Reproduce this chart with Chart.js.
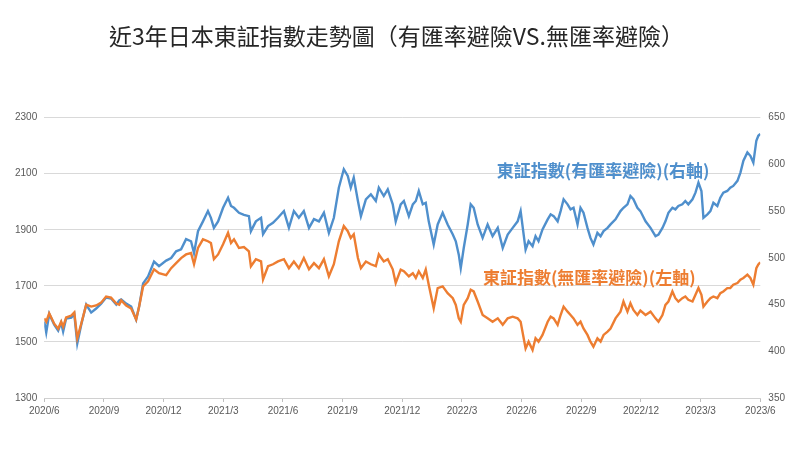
<!DOCTYPE html>
<html><head><meta charset="utf-8">
<script src="https://cdn.jsdelivr.net/npm/chart.js@4.4.0/dist/chart.umd.min.js"></script>
<style>html,body{margin:0;padding:0;background:#fff}canvas{display:block}</style>
</head><body>
<canvas id="c" width="800" height="450"></canvas>
<script>
// observation time, months since 2020/6
const months = [0.00,0.10,0.25,0.50,0.70,0.85,0.95,1.10,1.36,1.51,1.66,1.86,2.11,2.36,2.61,2.86,3.11,3.36,3.62,3.77,3.87,4.12,4.37,4.62,4.77,4.97,5.22,5.52,5.77,6.13,6.38,6.63,6.88,7.13,7.38,7.53,7.73,7.98,8.23,8.38,8.53,8.74,8.99,9.24,9.39,9.54,9.79,10.04,10.29,10.39,10.64,10.90,11.00,11.25,11.50,11.75,12.05,12.30,12.55,12.80,13.05,13.31,13.56,13.81,14.06,14.31,14.56,14.81,15.06,15.26,15.41,15.56,15.77,15.92,16.17,16.42,16.67,16.82,17.07,17.27,17.52,17.67,17.92,18.08,18.33,18.53,18.68,18.83,19.03,19.18,19.33,19.58,19.78,20.03,20.28,20.54,20.69,20.84,20.94,21.09,21.29,21.44,21.59,21.79,22.04,22.29,22.54,22.80,23.05,23.30,23.55,23.80,23.95,24.20,24.35,24.55,24.70,24.85,25.05,25.31,25.46,25.61,25.81,25.96,26.11,26.31,26.46,26.61,26.81,26.96,27.11,27.31,27.46,27.61,27.81,27.97,28.12,28.32,28.47,28.72,28.97,29.12,29.32,29.47,29.62,29.82,29.97,30.23,30.48,30.73,30.88,31.08,31.23,31.38,31.58,31.73,31.88,32.08,32.23,32.38,32.59,32.74,32.89,33.04,33.14,33.34,33.49,33.64,33.84,33.99,34.14,34.34,34.49,34.64,34.85,35.00,35.15,35.35,35.50,35.65,35.80,35.90,36.00];

// 東証指數(有匯率避險) — right axis
const hedged = [432,420,440,428.5,422,430.6,421,435,436,440,408.4,428.5,450,441.4,445.7,451,457.5,456.4,450,454.3,455.4,451,447.8,433.9,447.8,472.6,480,496,491,497,499.8,507,509,520,517.7,505,528.5,539,550,542.8,532,539,553.5,564.3,555.4,553.5,548.2,546,544.6,528.5,539,542.8,525.3,533.9,537.4,542.8,550,532,550,542.8,550,532,541.4,539,548.2,526.7,542.8,575,594.8,587.6,575,585.8,560.8,544.6,562.6,568,560.8,575,566.1,573.3,557.2,539,557.2,560.8,544.6,557.2,560.8,571.5,557.2,558.9,539,514.2,535.7,548.2,535.7,524.9,517.7,503.4,489,510.5,535.7,557.2,553.5,535.7,521.3,535.7,523.1,532,510.5,524.9,532,539,550,508.8,517.7,512.4,523.1,517.7,530.3,541.1,546.5,544.6,539,550,562.6,557.2,551.8,553.5,535.7,553.5,548.2,532,521.3,514.2,526.7,523.1,528.5,532,535.7,541.1,550,553.5,557.2,566.1,562.6,553.5,550,539,532,523.1,524.9,532,539,548.2,553.5,551.8,555.4,557.2,560.8,557.2,562.6,569.7,580.4,571.5,542.8,546.5,550,558.9,555.4,564.3,569.7,571.5,575,576.9,582.3,591.2,603.8,612.7,609.1,601.9,625.3,630.6,632.5];

// 東証指數(無匯率避險) — left axis
const unhedged = [1584,1572,1602,1565,1547,1572,1554,1587,1594,1605,1513,1565,1633,1626,1630,1640,1662,1658,1637,1633,1648,1630,1619,1580,1626,1698,1716,1759,1745,1738,1763,1781,1799,1812,1817,1777,1835,1866,1859,1853,1795,1812,1848,1889,1853,1866,1835,1838,1823,1770,1795,1787,1723,1770,1777,1787,1795,1763,1787,1763,1799,1759,1781,1763,1795,1734,1777,1859,1913,1895,1871,1884,1799,1763,1787,1777,1770,1812,1787,1795,1759,1710,1758,1752,1734,1745,1728,1752,1728,1758,1704,1620,1692,1698,1674,1656,1632,1584,1572,1632,1656,1686,1680,1644,1596,1584,1572,1584,1561,1584,1590,1584,1572,1477,1501,1471,1513,1501,1525,1572,1590,1584,1561,1596,1626,1608,1596,1584,1561,1572,1548,1525,1501,1483,1513,1501,1525,1537,1548,1584,1608,1644,1608,1638,1614,1596,1612,1596,1608,1584,1572,1596,1632,1644,1680,1656,1644,1656,1662,1650,1644,1668,1692,1668,1626,1644,1656,1662,1656,1674,1680,1692,1692,1704,1710,1722,1728,1740,1728,1704,1763,1776,1784];

const tickLabels = ['2020/6','2020/9','2020/12','2021/3','2021/6','2021/9','2021/12','2022/3','2022/6','2022/9','2022/12','2023/3','2023/6'];

const titleText = '近3年日本東証指數走勢圖（有匯率避險VS.無匯率避險）';
const hedgedLabel = '東証指數(有匯率避險)(右軸)';
const unhedgedLabel = '東証指數(無匯率避險)(左軸)';

const BLUE = '#4F8FCC';
const ORANGE = '#ED7D31';
const tickFont = {family: '"Liberation Sans Narrow", "Liberation Sans", sans-serif', size: 10};

const labelPlugin = {
  id: 'seriesLabels',
  afterDatasetsDraw(chart) {
    const {ctx, scales} = chart;
    ctx.save();
    ctx.font = 'bold 17px "Noto Sans CJK TC", sans-serif';
    ctx.textAlign = 'center';
    ctx.textBaseline = 'middle';
    ctx.fillStyle = BLUE;
    ctx.fillText(hedgedLabel, scales.x.getPixelForValue(28.1), scales.y1.getPixelForValue(593));
    ctx.fillStyle = ORANGE;
    ctx.fillText(unhedgedLabel, scales.x.getPixelForValue(27.4), scales.y.getPixelForValue(1728));
    ctx.restore();
  }
};

new Chart(document.getElementById('c'), {
  type: 'line',
  data: {
    datasets: [
      {label: unhedgedLabel, data: months.map((m, i) => ({x: m, y: unhedged[i]})), yAxisID: 'y',
       borderColor: ORANGE, borderWidth: 2.4, pointRadius: 0, tension: 0},
      {label: hedgedLabel, data: months.map((m, i) => ({x: m, y: hedged[i]})), yAxisID: 'y1',
       borderColor: BLUE, borderWidth: 2.4, pointRadius: 0, tension: 0}
    ]
  },
  options: {
    responsive: false,
    animation: false,
    layout: {padding: {left: 8, right: 15, top: 0, bottom: 30}},
    plugins: {
      legend: {display: false},
      tooltip: {enabled: false},
      title: {display: true, text: titleText, color: '#262626',
        font: {family: '"Noto Sans CJK TC", sans-serif', size: 23, weight: 'normal'},
        padding: {top: 22, bottom: 68}}
    },
    scales: {
      x: {type: 'linear', min: 0, max: 36,
        ticks: {stepSize: 3, color: '#595959', font: tickFont, maxRotation: 0, autoSkip: false,
          callback: v => tickLabels[Math.round(v / 3)]},
        grid: {drawOnChartArea: false, drawTicks: true, tickLength: 4, color: '#bfbfbf'},
        border: {display: true, color: '#d0d0d0'}},
      y: {position: 'left', min: 1300, max: 2300,
        ticks: {stepSize: 200, color: '#595959', font: tickFont, padding: 7, callback: v => String(v)},
        grid: {color: '#d9d9d9', drawTicks: false},
        border: {display: false}},
      y1: {position: 'right', min: 350, max: 650,
        ticks: {stepSize: 50, color: '#595959', font: tickFont, padding: 0, callback: v => String(v)},
        grid: {display: false, drawOnChartArea: false},
        border: {display: false}}
    }
  },
  plugins: [labelPlugin]
});
</script>
</body></html>
